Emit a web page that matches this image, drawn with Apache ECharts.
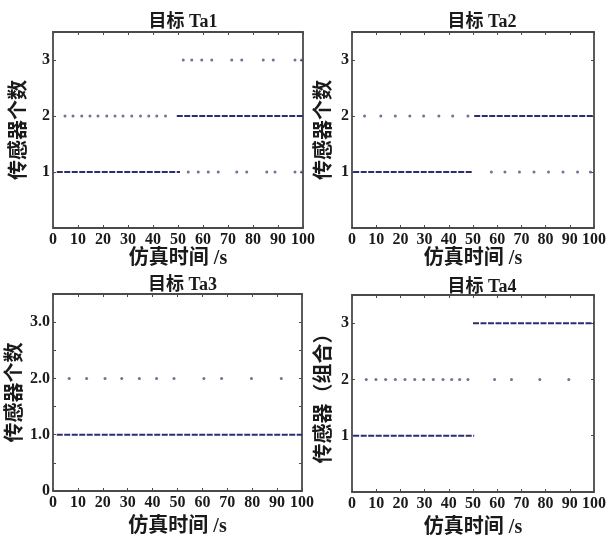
<!DOCTYPE html>
<html>
<head>
<meta charset="utf-8">
<script src="https://cdn.jsdelivr.net/npm/echarts@6/dist/echarts.min.js"></script>
<style>
  html, body { margin: 0; padding: 0; background: #fff; }
  #main { width: 609px; height: 540px; }
</style>
</head>
<body>
<div id="main"></div>
<script>
// 子图标题和纵轴名称
var titles = ['目标 Ta1', '目标 Ta2', '目标 Ta3', '目标 Ta4'];
var yNames = ['传感器个数', '传感器个数', '传感器个数', '传感器（组合）'];
var xName = '仿真时间 /s';

// 连续段 [起始时间, 结束时间, 传感器个数]
var ta1Runs = [[1.5, 50.8, 1], [49.5, 100, 2]];
var ta2Runs = [[0.5, 50, 1], [50.5, 100, 2]];
var ta3Runs = [[1.5, 100, 1]];
var ta4Runs = [[0.5, 50.5, 1], [50, 100, 3]];

// 离散点的时间
var ta1Dots1 = [54.1, 58.1, 62.1, 66.1, 73.5, 77.5, 85.5, 88.8, 96.8, 99.5];
var ta1Dots2 = [4.8, 8, 11.5, 14.8, 18, 21.5, 24.8, 28, 31.5, 35, 38.3, 41.5, 45];
var ta1Dots3 = [52.1, 55.5, 59.5, 63.5, 71.5, 75.5, 84.1, 88.1, 96.8, 99.5];
var ta2Dots1 = [57.6, 63.2, 69.2, 75.2, 81.2, 87.2, 93.2, 98.5];
var ta2Dots2 = [5.2, 11.9, 17.9, 23.9, 29.6, 35.9, 41.6, 47.9];
var ta3Dots2 = [6.5, 13.5, 20.9, 27.6, 34.7, 41.6, 48.6, 60.6, 67.7, 79.7, 91.7];
var ta4Dots2 = [5.9, 9.9, 13.9, 17.9, 21.9, 25.9, 29.6, 33.6, 37.6, 41.2, 44.5, 47.9, 58.9, 65.9, 77.6, 89.6];

var panelRuns = [ta1Runs, ta2Runs, ta3Runs, ta4Runs];
var panelDots = [
    [[ta1Dots1, 1], [ta1Dots2, 2], [ta1Dots3, 3]],
    [[ta2Dots1, 1], [ta2Dots2, 2]],
    [[ta3Dots2, 2]],
    [[ta4Dots2, 2]]
];

var grids = [
    {left: 53, top: 32, width: 250, height: 196},
    {left: 352, top: 32, width: 250, height: 196},
    {left: 53, top: 294, width: 249, height: 197},
    {left: 352, top: 295, width: 250, height: 197}
];
var titleTops = [8, 8, 271, 273];
var yGaps = [23, 17, 17, 17];
var xGaps = [21, 21, 26, 26];

var serif = 'Liberation Serif, Noto Sans CJK SC, serif';
var frameColor = '#4a4a4a';
var denseColor = '#2c2d70';
var dotColor = '#564a7a';

var myChart = echarts.init(document.getElementById('main'));

var xAxes = [], yAxes = [], titleList = [], series = [];
grids.forEach(function (g, i) {
    titleList.push({
        text: titles[i],
        left: g.left + g.width / 2,
        top: titleTops[i],
        textAlign: 'center',
        textStyle: {fontFamily: serif, fontSize: 18, fontWeight: 'bold', color: '#1a1a1a'}
    });
    var isTa3 = i === 2;
    var xBase = {
        gridIndex: i, type: 'value', min: 0, max: 100, interval: 10,
        axisLine: {show: true, onZero: false, lineStyle: {color: frameColor, width: 1.8}},
        axisTick: {show: true, inside: true, length: 3, lineStyle: {color: frameColor}},
        splitLine: {show: false}
    };
    xAxes.push(Object.assign({}, xBase, {
        position: 'bottom',
        name: xName, nameLocation: 'middle', nameGap: xGaps[i],
        nameTextStyle: {fontFamily: serif, fontSize: 20, fontWeight: 'bold', color: '#1a1a1a'},
        axisLabel: {fontFamily: serif, fontSize: 16, fontWeight: 'bold', color: '#1a1a1a', margin: 4}
    }));
    xAxes.push(Object.assign({}, xBase, {position: 'top', axisLabel: {show: false}}));

    var yBase = {
        gridIndex: i, type: 'value', min: 0, max: 3.5, interval: isTa3 ? 0.5 : 1,
        axisLine: {show: true, onZero: false, lineStyle: {color: frameColor, width: 1.8}},
        axisTick: {show: true, inside: true, length: 3, lineStyle: {color: frameColor}},
        splitLine: {show: false}
    };
    yAxes.push(Object.assign({}, yBase, {
        position: 'left',
        name: yNames[i], nameLocation: 'middle', nameGap: yGaps[i], nameRotate: 90,
        nameTextStyle: {fontFamily: serif, fontSize: 20, fontWeight: 'bold', color: '#1a1a1a'},
        axisLabel: {
            fontFamily: serif, fontSize: 16, fontWeight: 'bold', color: '#1a1a1a', margin: 3,
            formatter: function (v) {
                if (v % 1 !== 0) return '';
                if (isTa3) return v === 0 ? '0' : v.toFixed(1);
                return v >= 1 ? String(v) : '';
            }
        }
    }));
    yAxes.push(Object.assign({}, yBase, {position: 'right', axisLabel: {show: false}}));

    panelRuns[i].forEach(function (r) {
        series.push({
            type: 'line', xAxisIndex: 2 * i, yAxisIndex: 2 * i,
            data: [[r[0], r[2]], [r[1], r[2]]],
            showSymbol: false, silent: true,
            lineStyle: {color: denseColor, width: 2, type: [6, 1.5]}
        });
    });
    panelDots[i].forEach(function (d) {
        series.push({
            type: 'scatter', xAxisIndex: 2 * i, yAxisIndex: 2 * i,
            data: d[0].map(function (t) { return [t, d[1]]; }),
            symbol: 'circle', symbolSize: 3, silent: true,
            itemStyle: {color: dotColor}
        });
    });
});

var option = {
    backgroundColor: '#fff',
    animation: false,
    title: titleList,
    grid: grids,
    xAxis: xAxes,
    yAxis: yAxes,
    series: series
};
option && myChart.setOption(option);
</script>
</body>
</html>
